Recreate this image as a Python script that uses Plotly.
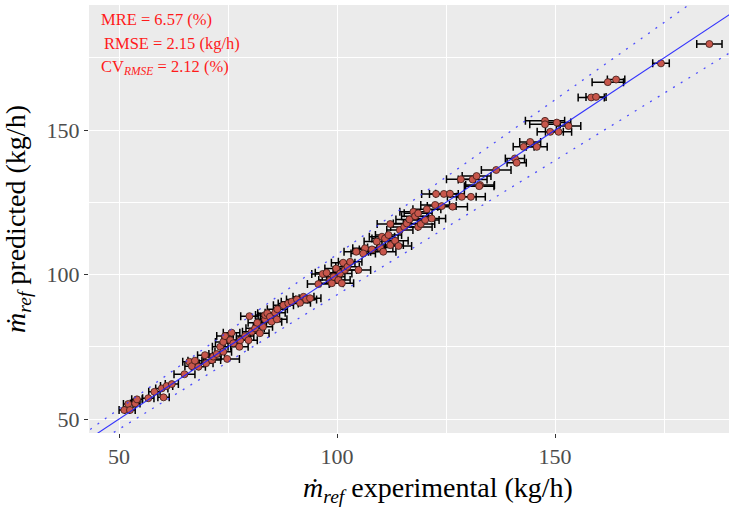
import plotly.graph_objects as go

# experimental mass flow (kg/h), predicted (kg/h), experimental uncertainty (kg/h)
exp_x = [51.2, 52.1, 52.5, 53.7, 54.1, 56.7, 58.1, 59.8, 60.2, 60.9, 62.1, 65.0, 66.1, 66.7, 67.4, 68.2,
         69.7, 69.95, 71.3, 71.6, 72.4, 73.2, 73.9, 74.8, 73.9, 74.3, 75.8, 75.5, 76.2, 77.6, 77.8, 78.9,
         79.7, 79.9, 80.4, 81.2, 81.7, 82.3, 83.0, 83.5, 83.5, 84.0, 84.6, 85.0, 85.8, 86.2, 86.3,
         87.7, 88.8, 89.6, 90.8, 91.5, 92.3, 92.9, 93.8, 95.7, 96.7, 97.6, 98.4, 98.8, 99.2, 99.8,
         100.3, 100.7, 101.1, 101.4, 101.8, 102.4, 103.0, 104.4, 104.9,
         106.4, 106.0, 108.0, 109.1, 109.9, 110.3, 110.6, 111.0, 111.8, 112.2, 112.2, 113.3, 114.1,
         114.4, 115.4, 116.0, 116.6, 117.5, 117.9, 118.6, 118.6, 119.2, 120.2, 120.6, 121.7, 122.7, 122.5,
         124.5, 125.9, 124.0, 126.5, 128.6, 130.7, 132.8,
         128.4, 131.1, 132.0, 132.6, 136.5, 140.8, 141.2,
         142.8, 144.3, 145.8, 147.7, 147.7, 148.9, 150.4, 150.8, 153.1, 158.3, 159.4, 162.1, 164.0,
         174.3, 185.4]
pred_y = [53.1, 55.2, 53.1, 55.4, 56.8, 57.2, 59.4, 60.6, 57.5, 61.4, 62.1, 65.5, 69.8, 68.3, 70.2, 68.1,
          72.1, 69.3, 70.4, 71.6, 72.5, 75.0, 73.3, 70.8, 76.7, 78.7, 79.9, 77.3, 76.2, 75.0, 77.3, 78.7,
          77.3, 85.6, 80.2, 81.4, 83.3, 79.7, 81.9, 84.5, 86.0, 86.6, 85.4, 83.7, 86.8, 84.5, 88.0,
          89.4, 90.0, 90.6, 91.4, 90.2, 92.3, 91.4, 91.8, 96.7, 100.2, 100.6, 98.1, 97.0, 99.2, 102.1,
          98.1, 100.4, 97.0, 104.1, 101.6, 102.7, 104.4, 107.9, 101.6,
          109.1, 107.3, 108.7, 111.4, 109.4, 113.1, 107.9, 112.5, 113.7, 117.5, 110.2, 111.7, 109.9,
          115.4, 116.5, 117.7, 119.1, 121.7, 120.2, 121.2, 116.5, 117.5, 118.9, 122.6, 119.4, 127.9, 124.1,
          127.9, 128.0, 123.7, 123.5, 126.9, 126.9, 131.0,
          133.0, 132.9, 134.1, 130.6, 136.2, 140.2, 138.7,
          144.2, 145.9, 144.2, 153.2, 152.0, 149.4, 152.6, 149.4, 151.4, 161.3, 161.5, 166.6, 167.5,
          173.1, 179.8]
exp_err = [1.2, 1.1, 1.2, 1.1, 1.2, 1.3, 1.3, 1.4, 1.3, 1.4, 1.5, 2.4, 1.5, 1.6, 1.6, 1.6,
           1.7, 1.6, 2.0, 1.8, 1.8, 1.8, 1.9, 2.8, 1.8, 1.9, 1.9, 1.9, 1.9, 2.0, 2.0, 2.0,
           2.0, 2.0, 2.1, 2.1, 2.1, 2.1, 2.2, 2.2, 2.2, 2.2, 2.2, 2.3, 2.3, 2.3, 2.3,
           2.3, 2.3, 2.4, 2.4, 2.4, 2.4, 2.4, 2.5, 2.5, 2.5, 2.6, 2.6, 2.6, 2.6, 2.6,
           2.7, 2.7, 2.7, 2.7, 2.7, 2.7, 2.7, 2.8, 2.8,
           2.8, 2.8, 2.9, 2.9, 2.9, 2.9, 2.9, 3.0, 3.0, 3.0, 3.0, 3.0, 3.0,
           3.0, 3.1, 3.1, 3.1, 3.1, 3.1, 3.2, 3.2, 3.2, 3.2, 3.2, 3.2, 3.3, 3.3,
           3.3, 3.3, 3.3, 3.4, 3.3, 3.3, 3.3,
           3.3, 3.3, 3.3, 3.4, 3.4, 2.2, 2.2,
           2.4, 2.4, 2.4, 4.5, 3.5, 3.0, 3.2, 3.0, 2.8, 3.0, 2.3, 3.6, 2.0,
           1.9, 2.9]

ref_x = [40, 200]
band_factors = [1.07, 0.93]

stats_text = ["MRE = 6.57 (%)", "RMSE = 2.15 (kg/h)", "CV<sub><i>RMSE</i></sub> = 2.12 (%)"]
stats_xpos = [0.016, 0.021, 0.016]
stats_ypos = [0.965, 0.909, 0.855]

x_title = "<i>ṁ</i><sub><i>ref</i></sub> experimental (kg/h)"
y_title = "<i>ṁ</i><sub><i>ref</i></sub> predicted (kg/h)"

x_ticks = [50, 100, 150]
y_ticks = [50, 100, 150]

SERIF = "Liberation Serif"

fig = go.Figure()

fig.add_trace(go.Scatter(
    x=exp_x, y=pred_y, mode="markers",
    error_x=dict(type="data", array=exp_err, color="black", thickness=1.5, width=4),
    marker=dict(size=7, color="#C8574C", line=dict(color="#3a1a16", width=0.8)),
    showlegend=False, hoverinfo="skip"))

for f in band_factors:
    fig.add_trace(go.Scatter(
        x=ref_x, y=[v * f for v in ref_x], mode="lines",
        line=dict(color="rgba(60,60,255,0.9)", width=1.3, dash="2px,7px"),
        showlegend=False, hoverinfo="skip"))

fig.add_trace(go.Scatter(
    x=ref_x, y=ref_x, mode="lines",
    line=dict(color="rgba(30,30,255,0.9)", width=1.1),
    showlegend=False, hoverinfo="skip"))

for txt, xp, yp in zip(stats_text, stats_xpos, stats_ypos):
    fig.add_annotation(text=txt, xref="paper", yref="paper", x=xp, y=yp,
                       xanchor="left", yanchor="middle", showarrow=False,
                       font=dict(family=SERIF, size=16.5, color="#FF1A1A"))

# x-axis title (placed as an annotation so its horizontal position matches)
fig.add_annotation(text=x_title, xref="paper", yref="paper", x=0.545, y=-0.132,
                   xanchor="center", yanchor="middle", showarrow=False,
                   font=dict(family=SERIF, size=28, color="black"))

axis_common = dict(
    automargin=False,
    showgrid=True, gridcolor="white", gridwidth=1.3,
    zeroline=False, showline=False,
    ticks="outside", ticklen=4, tickwidth=1, tickcolor="#333333",
    tickfont=dict(family=SERIF, size=22, color="#4D4D4D"),
    minor=dict(dtick=25, tick0=0, showgrid=True, gridcolor="white", gridwidth=0.6, ticks=""),
)

fig.update_layout(
    width=730, height=514,
    margin=dict(l=89, r=1, t=5, b=81),
    paper_bgcolor="white", plot_bgcolor="#EBEBEB",
    xaxis=dict(range=[43.1, 189.9], tickvals=x_ticks, ticktext=[str(v) for v in x_ticks],
               **axis_common),
    yaxis=dict(range=[45.16, 193.3], tickvals=y_ticks, ticktext=[str(v) for v in y_ticks],
               title=dict(text=y_title, font=dict(family=SERIF, size=28, color="black")),
               **axis_common),
)

fig.write_html("out.html", config={"displayModeBar": False},
               post_script="document.body.style.margin='0px';document.body.style.overflow='hidden';")
